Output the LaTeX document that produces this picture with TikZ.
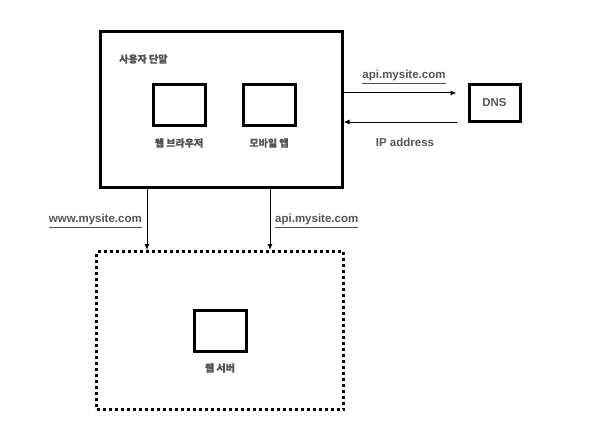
\documentclass[tikz,border=0pt]{standalone}
\usepackage{fontspec}
\setmainfont{Liberation Sans}
\newfontfamily\kofont{Noto Sans CJK KR}[FakeBold=0.8]
\usetikzlibrary{positioning,arrows.meta,calc}
\definecolor{ink}{HTML}{000000}
\definecolor{ink3}{HTML}{555555}
\definecolor{surface}{HTML}{FFFFFF}
\tikzset{
  outer/.style={draw=ink, line width=3pt, fill=surface, inner sep=0pt,
                minimum width=242pt, minimum height=155pt},
  tier/.style={draw=ink, line width=3pt, dash pattern=on 3pt off 3pt, inner sep=0pt,
               minimum width=247pt, minimum height=158pt},
  dev/.style={draw=ink, line width=3pt, fill=surface, inner sep=0pt,
              minimum width=52pt, minimum height=41pt},
  kolbl/.style={font=\kofont\bfseries\fontsize{10}{12}\selectfont, text=ink3, inner sep=0pt},
  lnlbl/.style={font=\bfseries\fontsize{11.5}{13}\selectfont, text=ink3, inner sep=0pt},
  req/.style={-{Latex[length=6pt,width=5pt]}, line width=1pt, draw=ink},
}
\newcommand{\ul}[1]{\underline{#1}}

\begin{document}
\begin{tikzpicture}[x=1pt,y=-1pt]
\useasboundingbox (0,0) rectangle (600,444);
% client device
\node[outer] (client) at (221,109.5) {};
\node[kolbl, anchor=west] (clientlbl) at (119,59) {사용자 단말};
\node[dev] (browser) at (179,105) {};
\node[dev] (mobileapp) at (269,105) {};
\node[kolbl] (browserlbl) at (179,143) {웹 브라우저};
\node[kolbl] (mobilelbl) at (269,143) {모바일 앱};
% DNS
\node[dev, minimum width=51pt, minimum height=36pt] (dns) at (494.5,103) {};
\node[lnlbl] (dnslbl) at (dns) {DNS};
\draw[req, shorten >=11pt] (client.east |- 0,93) -- (dns.west |- 0,93);
\draw[req, shorten <=11pt] (dns.west |- 0,122) -- (client.east |- 0,122);
\node[lnlbl] (apiq) at (404,77) {\ul{api.mysite.com}};
\node[lnlbl] (ipans) at (405,142) {IP address};
% web tier
\node[tier] (webtier) at (220,330.5) {};
\node[dev] (webserver) at (220,330.5) {};
\node[kolbl] (webserverlbl) at (220,368) {웹 서버};
\draw[req] (client.south -| 147,0) -- (webtier.north -| 147,0);
\draw[req] (client.south -| 270,0) -- (webtier.north -| 270,0);
\node[lnlbl, anchor=east] (wwwlbl) at (142,221) {\ul{www.mysite.com}};
\node[lnlbl, anchor=west] (apilbl) at (275,221) {\ul{api.mysite.com}};
\end{tikzpicture}
\end{document}
